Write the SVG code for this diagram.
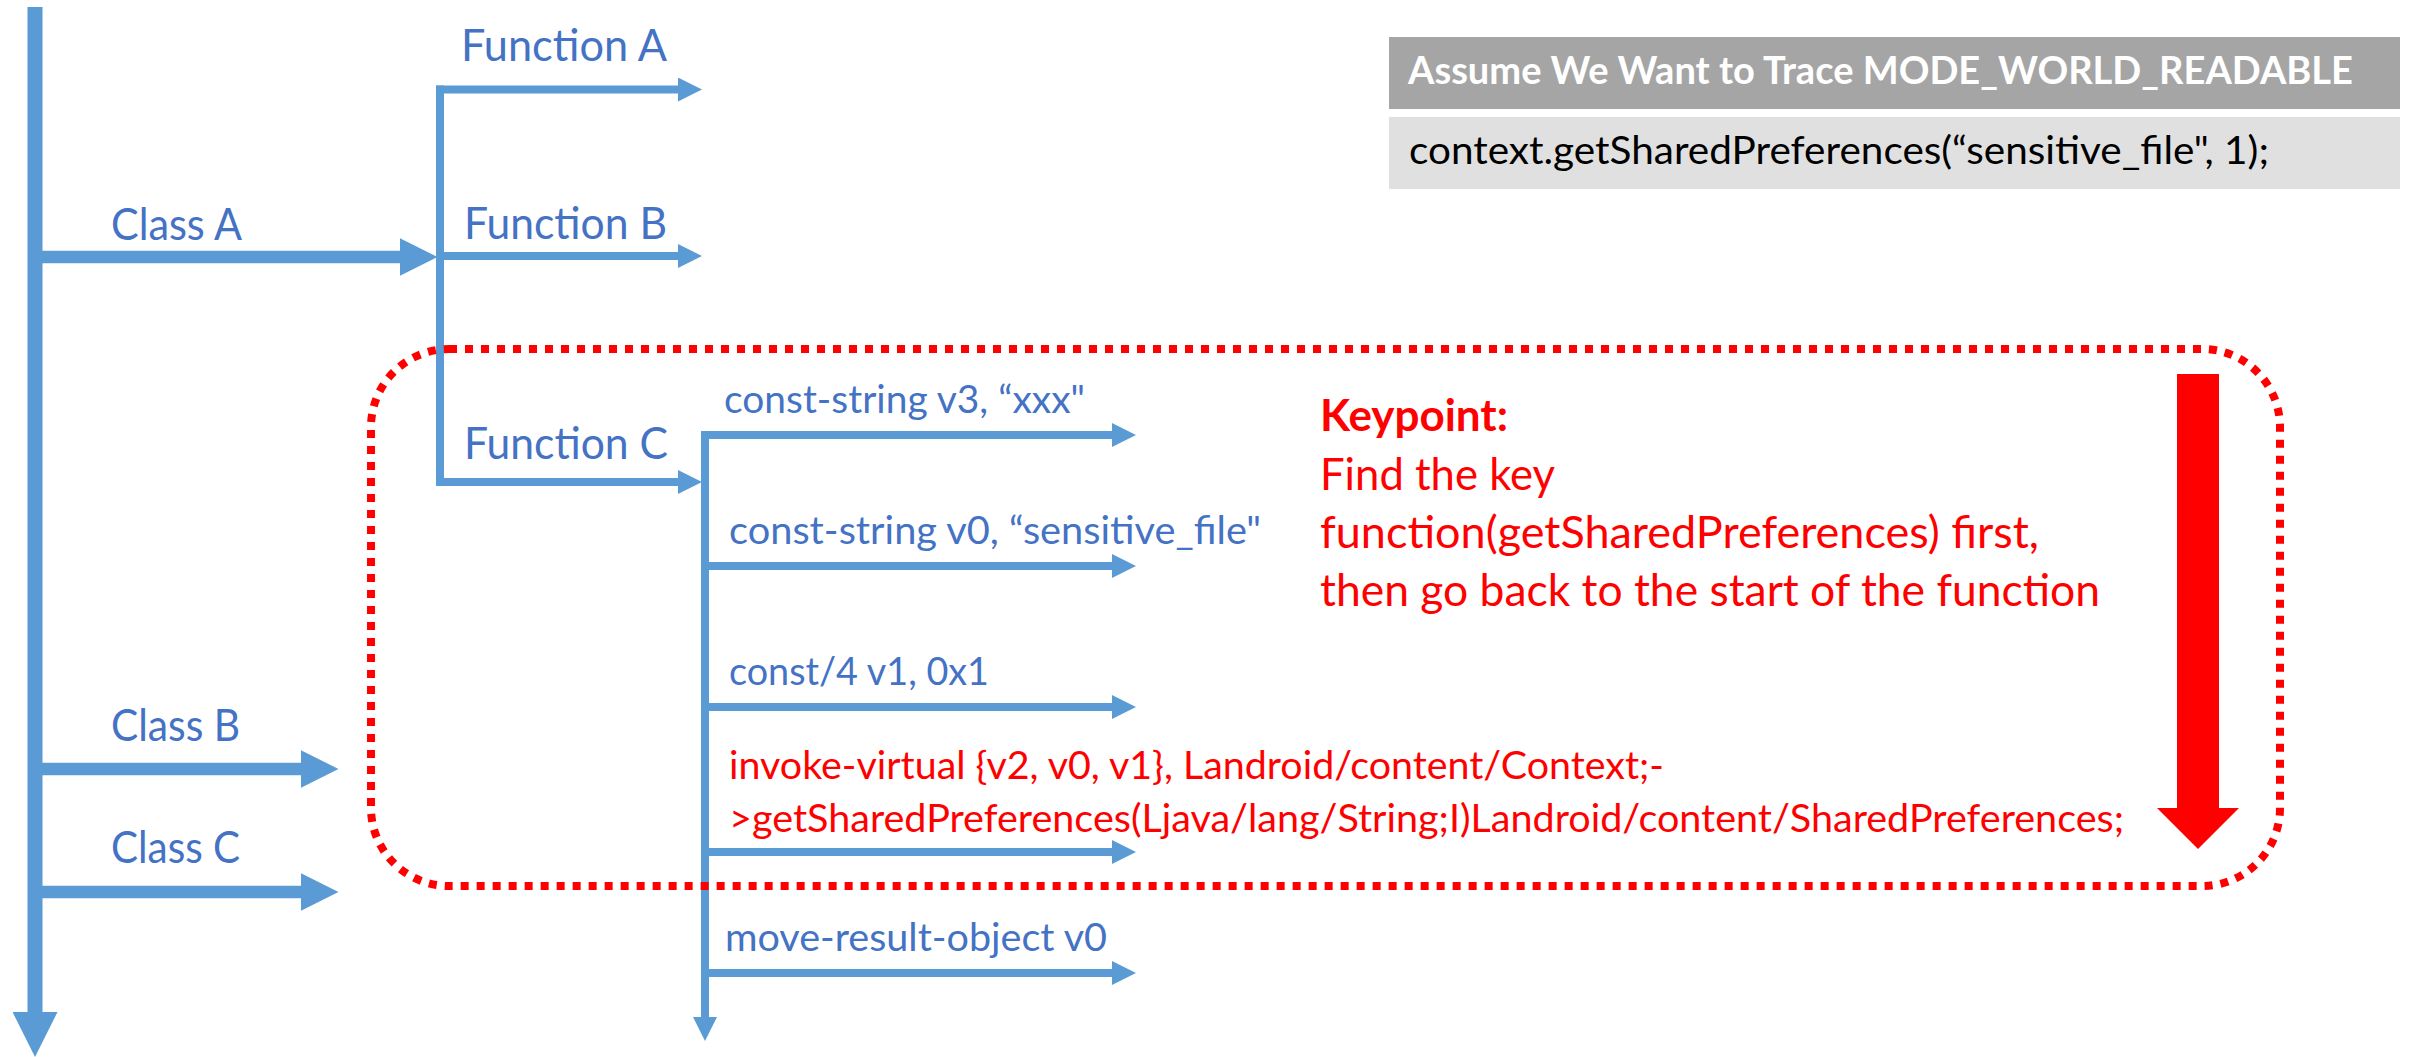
<svg xmlns="http://www.w3.org/2000/svg" width="2412" height="1057" viewBox="0 0 2412 1057">
<style>
.ln{stroke:#5B9BD5;fill:none;stroke-linecap:butt}
.arr{marker-end:url(#ah)}
.t{font-family:Lato,'Open Sans','Liberation Sans',sans-serif}
.blue{fill:#4472C4}
.red{fill:#FF0000}
.big{font-size:44px}
.sm{font-size:39px}
.b{font-weight:bold}
</style>
<defs>
<marker id="ah" viewBox="0 0 3 3" refX="0" refY="1.5" markerWidth="3" markerHeight="3" orient="auto" markerUnits="strokeWidth">
<path d="M0,0L3,1.5L0,3z" fill="#5B9BD5"/>
</marker>
</defs>
<rect width="2412" height="1057" fill="#FFFFFF"/>

<g id="connectors">
<path class="ln arr" stroke-width="15" d="M35,7V1012"/>
<path class="ln arr" stroke-width="12.5" d="M35,257H400"/>
<path class="ln arr" stroke-width="12.5" d="M35,769H301"/>
<path class="ln arr" stroke-width="12.5" d="M35,892H301"/>
<path class="ln" stroke-width="8" d="M440,85.5V486"/>
<path class="ln arr" stroke-width="8" d="M436,89.5H678"/>
<path class="ln arr" stroke-width="8" d="M436,256H678"/>
<path class="ln arr" stroke-width="8" d="M436,482H678"/>
<path class="ln arr" stroke-width="8" d="M705,431V1017"/>
<path class="ln arr" stroke-width="8" d="M701,435H1112"/>
<path class="ln arr" stroke-width="8" d="M701,566H1112"/>
<path class="ln arr" stroke-width="8" d="M701,707H1112"/>
<path class="ln arr" stroke-width="8" d="M701,852H1112"/>
<path class="ln arr" stroke-width="8" d="M701,973H1112"/>
</g>

<g id="class-a"><text class="t blue big" x="111" y="240" textLength="131" lengthAdjust="spacingAndGlyphs">Class A</text></g>
<g id="class-b"><text class="t blue big" x="111" y="741" textLength="129" lengthAdjust="spacingAndGlyphs">Class B</text></g>
<g id="class-c"><text class="t blue big" x="111" y="863" textLength="129" lengthAdjust="spacingAndGlyphs">Class C</text></g>
<g id="function-a"><text class="t blue big" x="461" y="61" textLength="206" lengthAdjust="spacingAndGlyphs">Function A</text></g>
<g id="function-b"><text class="t blue big" x="464" y="239" textLength="203" lengthAdjust="spacingAndGlyphs">Function B</text></g>
<g id="function-c"><text class="t blue big" x="464" y="459" textLength="204" lengthAdjust="spacingAndGlyphs">Function C</text></g>

<g id="instr-1"><text class="t blue sm" x="724" y="413" textLength="361" lengthAdjust="spacingAndGlyphs">const-string v3, “xxx"</text></g>
<g id="instr-2"><text class="t blue sm" x="729" y="544" textLength="532" lengthAdjust="spacingAndGlyphs">const-string v0, “sensitive_file"</text></g>
<g id="instr-3"><text class="t blue sm" x="729" y="685" textLength="260" lengthAdjust="spacingAndGlyphs">const/4 v1, 0x1</text></g>
<g id="instr-4">
<text class="t red sm" x="729" y="779" textLength="935" lengthAdjust="spacingAndGlyphs">invoke-virtual {v2, v0, v1}, Landroid/content/Context;-</text>
<text class="t red sm" x="729" y="832" textLength="1395" lengthAdjust="spacingAndGlyphs">&gt;getSharedPreferences(Ljava/lang/String;I)Landroid/content/SharedPreferences;</text>
</g>
<g id="instr-5"><text class="t blue sm" x="725" y="951" textLength="382" lengthAdjust="spacingAndGlyphs">move-result-object v0</text></g>

<g id="keypoint-region">
<rect x="371" y="349" width="1909" height="537" rx="78" ry="78" fill="none" stroke="#FF0000" stroke-width="8" stroke-dasharray="8 8"/>
<polygon points="2177,374 2219,374 2219,808 2239,808 2198,849 2157,808 2177,808" fill="#FF0000"/>
</g>

<g id="keypoint-note">
<text class="t red big b" x="1320" y="431" textLength="188" lengthAdjust="spacingAndGlyphs">Keypoint:</text>
<text class="t red big" x="1320" y="490" textLength="235" lengthAdjust="spacingAndGlyphs">Find the key</text>
<text class="t red big" x="1320" y="548" textLength="719" lengthAdjust="spacingAndGlyphs">function(getSharedPreferences) first,</text>
<text class="t red big" x="1320" y="606" textLength="780" lengthAdjust="spacingAndGlyphs">then go back to the start of the function</text>
</g>

<g id="header-box">
<rect x="1389" y="37" width="1011" height="72" fill="#A5A5A5"/>
<text class="t sm b" x="1408" y="84" fill="#FFFFFF" textLength="945" lengthAdjust="spacingAndGlyphs">Assume We Want to Trace MODE_WORLD_READABLE</text>
</g>
<g id="code-box">
<rect x="1389" y="117" width="1011" height="72" fill="#E0E0E0"/>
<text class="t sm" x="1409" y="164" fill="#000000" textLength="860" lengthAdjust="spacingAndGlyphs">context.getSharedPreferences(“sensitive_file", 1);</text>
</g>
</svg>
